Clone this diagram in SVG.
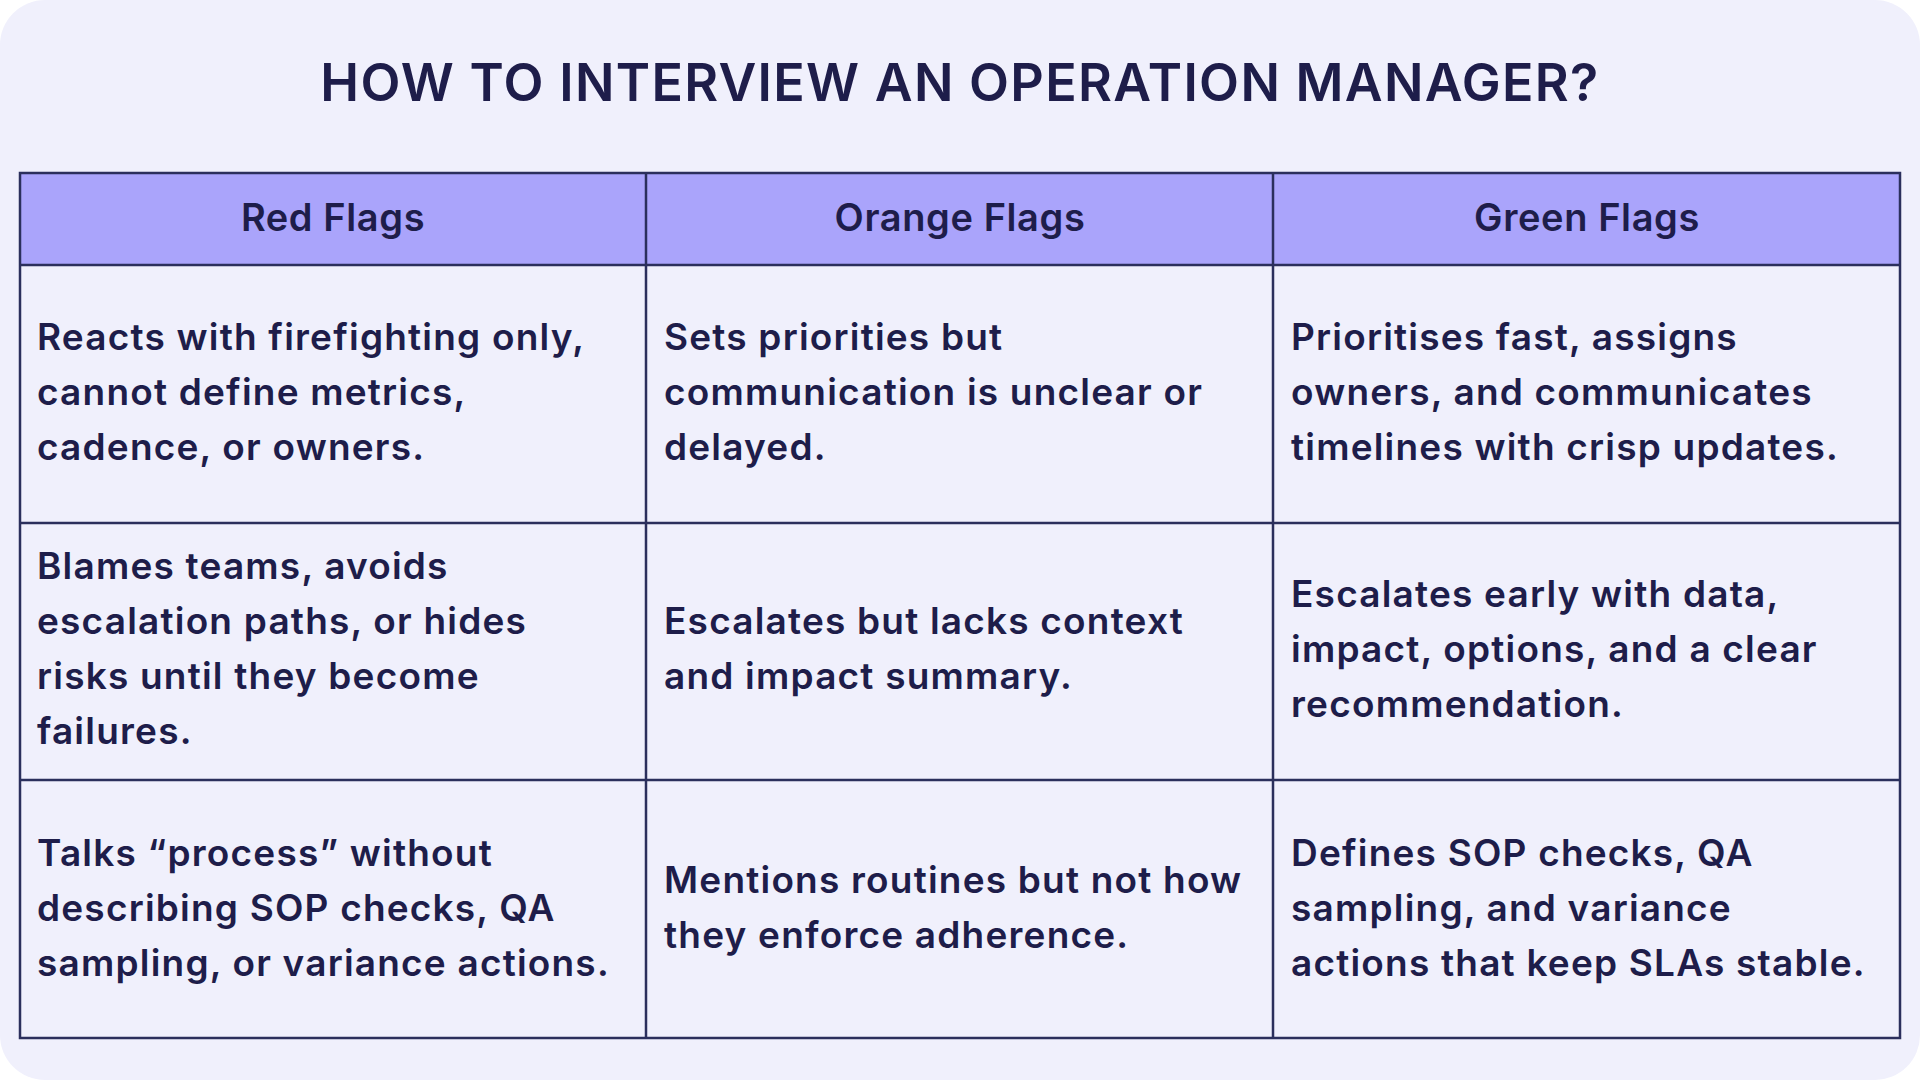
<svg xmlns="http://www.w3.org/2000/svg" width="1920" height="1080" viewBox="0 0 1920 1080">
<style>
.t{font-family:Inter,"Noto Sans",sans-serif;fill:#1e1d4a;font-weight:600}
.b{font-size:37px;letter-spacing:1.2px}
.h{font-size:38px;text-anchor:middle;font-weight:600;letter-spacing:0.6px}
.ln{stroke:#2b2f5c;stroke-width:2.5;fill:none}
</style>
<rect x="0" y="0" width="1920" height="1080" rx="45" fill="#f0f0fc"/>
<text class="t" x="960" y="101" font-size="52" text-anchor="middle" letter-spacing="1.3">HOW TO INTERVIEW AN OPERATION MANAGER?</text>
<g id="header">
<rect x="20" y="173" width="1880" height="92" fill="#aaa4fb"/>
<text class="t h" x="333" y="231">Red Flags</text>
<text class="t h" x="960" y="231">Orange Flags</text>
<text class="t h" x="1587" y="231">Green Flags</text>
</g>
<g id="grid">
<rect class="ln" x="20" y="173" width="1880" height="865"/>
<path class="ln" d="M20 265H1900M20 523H1900M20 780H1900M646 173V1038M1273 173V1038"/>
</g>
<g id="row1">
<text class="t b" x="37" y="350">Reacts with firefighting only,</text>
<text class="t b" x="37" y="405">cannot define metrics,</text>
<text class="t b" x="37" y="460">cadence, or owners.</text>
<text class="t b" x="664" y="350">Sets priorities but</text>
<text class="t b" x="664" y="405">communication is unclear or</text>
<text class="t b" x="664" y="460">delayed.</text>
<text class="t b" x="1291" y="350">Prioritises fast, assigns</text>
<text class="t b" x="1291" y="405">owners, and communicates</text>
<text class="t b" x="1291" y="460">timelines with crisp updates.</text>
</g>
<g id="row2">
<text class="t b" x="37" y="579">Blames teams, avoids</text>
<text class="t b" x="37" y="634">escalation paths, or hides</text>
<text class="t b" x="37" y="689">risks until they become</text>
<text class="t b" x="37" y="744">failures.</text>
<text class="t b" x="664" y="634">Escalates but lacks context</text>
<text class="t b" x="664" y="689">and impact summary.</text>
<text class="t b" x="1291" y="607">Escalates early with data,</text>
<text class="t b" x="1291" y="662">impact, options, and a clear</text>
<text class="t b" x="1291" y="717">recommendation.</text>
</g>
<g id="row3">
<text class="t b" x="37" y="866">Talks “process” without</text>
<text class="t b" x="37" y="921">describing SOP checks, QA</text>
<text class="t b" x="37" y="976">sampling, or variance actions.</text>
<text class="t b" x="664" y="893">Mentions routines but not how</text>
<text class="t b" x="664" y="948">they enforce adherence.</text>
<text class="t b" x="1291" y="866">Defines SOP checks, QA</text>
<text class="t b" x="1291" y="921">sampling, and variance</text>
<text class="t b" x="1291" y="976">actions that keep SLAs stable.</text>
</g>
</svg>
